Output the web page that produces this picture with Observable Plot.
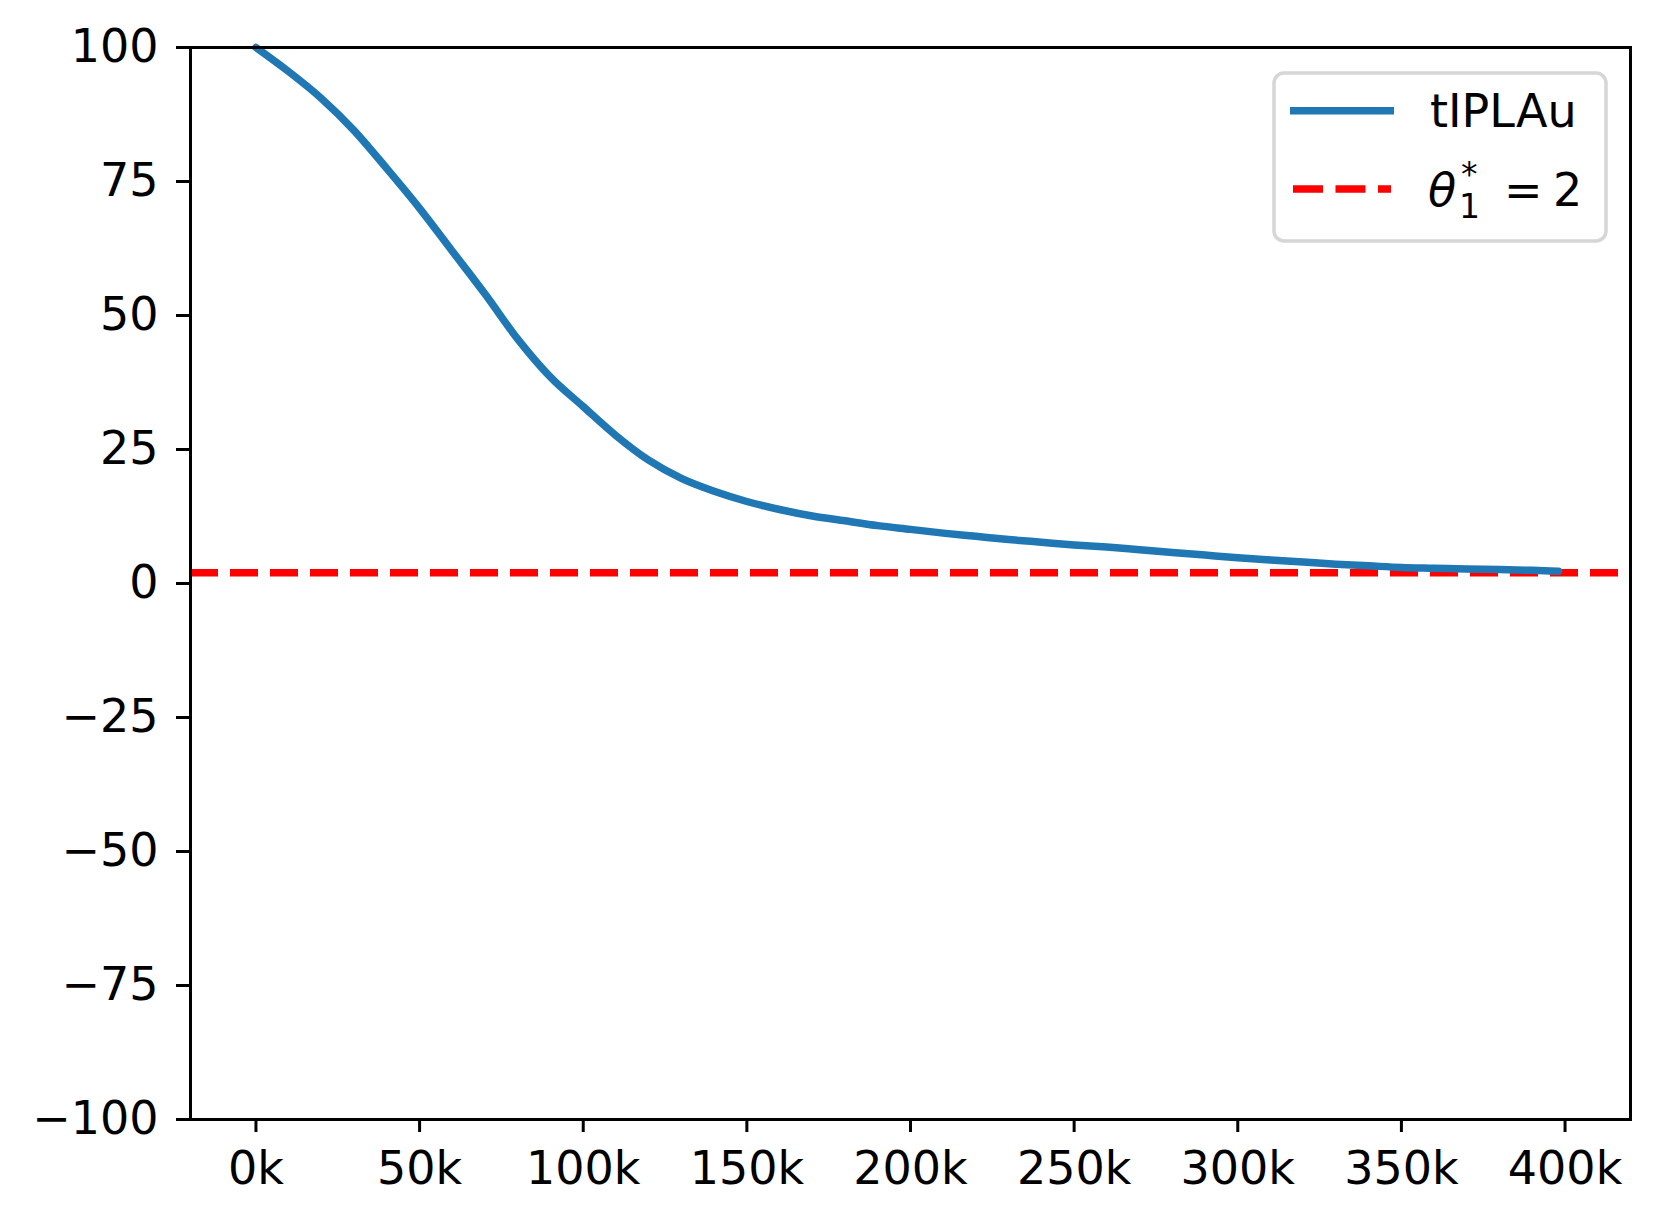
<!DOCTYPE html>
<html>
<head>
<meta charset="utf-8">
<script src="https://cdn.jsdelivr.net/npm/d3@7"></script>
<script src="https://cdn.jsdelivr.net/npm/@observablehq/plot@0.6"></script>
<style>
  html, body { margin: 0; padding: 0; background: white; }
  #chart { position: relative; width: 1659px; height: 1224px; }
</style>
</head>
<body>
<div id="chart"></div>
<script>
// Iterations (x) and estimated parameter (y)
const iterations = [0, 10000, 20000, 30000, 40000, 50000, 60000, 70000, 80000, 90000,
  100000, 110000, 120000, 130000, 140000, 150000, 160000, 170000, 180000, 190000,
  200000, 210000, 220000, 230000, 240000, 250000, 260000, 270000, 280000, 290000,
  300000, 310000, 320000, 330000, 340000, 350000, 360000, 370000, 380000, 390000, 398000];
const estimates = [100, 95.5, 90.5, 84.5, 77.4, 70, 62, 54, 45.6, 38.5,
  33, 27.6, 23, 19.6, 17.2, 15.3, 13.8, 12.6, 11.7, 10.8,
  10.1, 9.4, 8.8, 8.2, 7.7, 7.2, 6.8, 6.3, 5.8, 5.3,
  4.8, 4.4, 4.0, 3.6, 3.3, 3.0, 2.85, 2.7, 2.6, 2.45, 2.3];
const trueValue = 2;
const xTicks = [0, 50000, 100000, 150000, 200000, 250000, 300000, 350000, 400000];
const yTicks = [-100, -75, -50, -25, 0, 25, 50, 75, 100];
const seriesLabel = "tIPLAu";

const data = iterations.map((x, i) => ({x, y: estimates[i]}));
const fmtY = d => d < 0 ? "\u2212" + (-d) : String(d);

const plot = Plot.plot({
  width: 1659,
  height: 1224,
  marginLeft: 190,
  marginRight: 29,
  marginTop: 47,
  marginBottom: 105,
  style: {fontFamily: "DejaVu Sans", fontSize: "46px", background: "white", color: "black"},
  x: {domain: [-20000, 420000]},
  y: {domain: [-100, 100]},
  marks: [
    Plot.ruleY([trueValue], {stroke: "#ff0000", strokeWidth: 7.5, strokeDasharray: "28,12"}),
    Plot.line(data, {x: "x", y: "y", stroke: "#1f77b4", strokeWidth: 7.5, curve: "monotone-x"}),
    Plot.frame({stroke: "black", strokeWidth: 3}),
    Plot.axisX({ticks: xTicks, tickSize: 13, tickPadding: 19, strokeWidth: 3, tickFormat: d => (d / 1000) + "k", label: null}),
    Plot.axisY({ticks: yTicks, tickSize: 14, tickPadding: 18, strokeWidth: 3, tickFormat: fmtY, label: null})
  ]
});

document.getElementById("chart").appendChild(plot);

// Legend drawn into the same SVG
const svg = d3.select(plot);
const lg = svg.append("g").attr("font-family", "DejaVu Sans").attr("fill", "black").attr("text-anchor", "start");
lg.append("rect")
  .attr("x", 1274).attr("y", 73).attr("width", 332).attr("height", 168)
  .attr("rx", 10).attr("ry", 10)
  .attr("fill", "white").attr("fill-opacity", 0.8)
  .attr("stroke", "#d6d6d6").attr("stroke-width", 3.5);
lg.append("line")
  .attr("x1", 1290).attr("x2", 1394).attr("y1", 110.7).attr("y2", 110.7)
  .attr("stroke", "#1f77b4").attr("stroke-width", 7.5);
lg.append("line")
  .attr("x1", 1293).attr("x2", 1391).attr("y1", 189).attr("y2", 189)
  .attr("stroke", "#ff0000").attr("stroke-width", 7.5).attr("stroke-dasharray", "30,12.5");
lg.append("text").attr("x", 1430).attr("y", 127).attr("font-size", 46).text(seriesLabel);
lg.append("text").attr("x", 1428).attr("y", 206).attr("font-size", 46).attr("font-style", "italic").text("\u03B8");
lg.append("text").attr("x", 1459).attr("y", 218).attr("font-size", 33).text("1");
lg.append("text").attr("x", 1461).attr("y", 186).attr("font-size", 33).text("*");
lg.append("text").attr("x", 1504).attr("y", 206).attr("font-size", 46).text("=");
lg.append("text").attr("x", 1553).attr("y", 206).attr("font-size", 46).text("2");
</script>
</body>
</html>
